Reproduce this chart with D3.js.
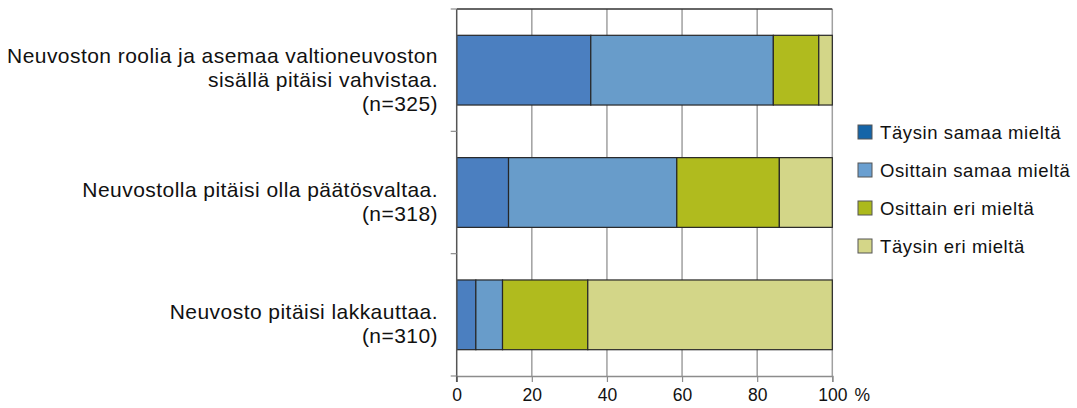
<!DOCTYPE html>
<html>
<head>
<meta charset="utf-8">
<script src="https://cdn.jsdelivr.net/npm/d3@7"></script>
<style>
  html, body { margin: 0; padding: 0; background: #fff; }
  svg { display: block; font-family: "Liberation Sans", Arial, Helvetica, sans-serif; }
</style>
</head>
<body>
<svg id="chart" width="1077" height="408"></svg>
<script>
// Statement labels (each line drawn separately, right-aligned)
const categories = [
  ["Neuvoston roolia ja asemaa valtioneuvoston", "sisällä pitäisi vahvistaa.", "(n=325)"],
  ["Neuvostolla pitäisi olla päätösvaltaa.", "(n=318)"],
  ["Neuvosto pitäisi lakkauttaa.", "(n=310)"]
];
const seriesNames = ["Täysin samaa mieltä", "Osittain samaa mieltä", "Osittain eri mieltä", "Täysin eri mieltä"];
// Percent shares per statement, in the order of seriesNames
const taysinSamaa   = [35.7, 13.8, 5.1];
const osittainSamaa = [48.6, 44.8, 7.1];
const osittainEri   = [12.1, 27.3, 22.7];
const taysinEri     = [3.6, 14.1, 65.1];
const xTicks = [0, 20, 40, 60, 80, 100];

const barColors    = ["#4b7fc0", "#689cca", "#b0bb1e", "#d3d688"];
const legendColors = ["#1565a8", "#6a9fd0", "#acb91c", "#d4d688"];

const svg = d3.select("#chart");
const x = d3.scaleLinear().domain([0, 100]).range([456.7, 832.3]);
const keys = categories.map((c, i) => i);
const y = d3.scaleBand().domain(keys).range([9, 376]).paddingInner(0.43).paddingOuter(0.215);

const rows = keys.map(i => ({
  key: i,
  s0: taysinSamaa[i], s1: osittainSamaa[i], s2: osittainEri[i], s3: taysinEri[i]
}));
const stacked = d3.stack().keys(["s0", "s1", "s2", "s3"])(rows);

// Vertical grid lines
svg.append("g")
  .selectAll("line")
  .data(xTicks.slice(1))
  .join("line")
  .attr("x1", d => x(d)).attr("x2", d => x(d))
  .attr("y1", 9).attr("y2", 376)
  .attr("stroke", "#a0a0a0").attr("stroke-width", 1.5);

// Top border
svg.append("line")
  .attr("x1", x(0)).attr("x2", x(100)).attr("y1", 9).attr("y2", 9)
  .attr("stroke", "#333").attr("stroke-width", 1.5);

// Stacked bars
svg.append("g")
  .selectAll("g")
  .data(stacked)
  .join("g")
  .attr("fill", (d, i) => barColors[i])
  .selectAll("rect")
  .data(d => d)
  .join("rect")
  .attr("x", d => x(d[0]))
  .attr("width", d => x(d[1]) - x(d[0]))
  .attr("y", d => y(d.data.key))
  .attr("height", y.bandwidth())
  .attr("stroke", "#262626")
  .attr("stroke-width", 1.2);

// Bottom axis
const tickFont = 17.5;
const xAxis = svg.append("g")
  .attr("transform", "translate(0,376)")
  .call(d3.axisBottom(x).tickValues(xTicks).tickSize(6).tickPadding(7).tickFormat(d3.format("d")));
xAxis.select(".domain").attr("stroke", "#8c8c8c").attr("stroke-width", 1.5);
xAxis.selectAll(".tick line").attr("stroke", "#8c8c8c").attr("stroke-width", 1.2);
xAxis.selectAll(".tick text")
  .attr("font-size", tickFont).attr("fill", "#111")
  .attr("font-family", "\"Liberation Sans\", Arial, sans-serif");
// Percent unit after the last tick label
const lastTick = xAxis.selectAll(".tick").filter(d => d === 100);
const lastText = lastTick.select("text");
const halfW = lastText.node().getComputedTextLength() / 2;
lastTick.append("text")
  .attr("x", halfW + 7)
  .attr("y", lastText.attr("y"))
  .attr("dy", lastText.attr("dy"))
  .attr("text-anchor", "start")
  .attr("font-size", tickFont).attr("letter-spacing", 0).attr("fill", "#111")
  .attr("font-family", "\"Liberation Sans\", Arial, sans-serif")
  .text("%");

// Left axis: band boundaries as ticks
const bounds = [9].concat(keys.map(k => y(k) + y.bandwidth() + y.step() * y.paddingInner() / 2));
const leftAxis = svg.append("g");
leftAxis.append("line")
  .attr("x1", x(0)).attr("x2", x(0)).attr("y1", 9).attr("y2", 382)
  .attr("stroke", "#555").attr("stroke-width", 1.5);
leftAxis.selectAll("line.tk")
  .data(bounds)
  .join("line").attr("class", "tk")
  .attr("x1", x(0) - 6).attr("x2", x(0))
  .attr("y1", d => d).attr("y2", d => d)
  .attr("stroke", "#8c8c8c").attr("stroke-width", 1.2);

// Category labels
const labelG = svg.append("g")
  .attr("font-size", 21).attr("letter-spacing", 0.45)
  .attr("fill", "#111").attr("text-anchor", "end");
categories.forEach((lines, i) => {
  const cy = y(i) + y.bandwidth() / 2 + 9;
  const lh = 24;
  const t = labelG.append("text").attr("x", 438);
  lines.forEach((ln, j) => {
    t.append("tspan")
      .attr("x", 438)
      .attr("y", cy + (j - (lines.length - 1) / 2) * lh)
      .attr("dy", "0.35em")
      .text(ln);
  });
});

// Legend
const legend = svg.append("g");
seriesNames.forEach((name, i) => {
  const cy = 132 + i * 38;
  legend.append("rect")
    .attr("x", 858).attr("y", cy - 7)
    .attr("width", 14).attr("height", 14)
    .attr("fill", legendColors[i])
    .attr("stroke", "#555").attr("stroke-width", 1);
  legend.append("text")
    .attr("x", 880).attr("y", cy).attr("dy", "0.36em")
    .attr("font-size", 18.5).attr("letter-spacing", 0.6).attr("fill", "#111")
    .text(name);
});
</script>
</body>
</html>
